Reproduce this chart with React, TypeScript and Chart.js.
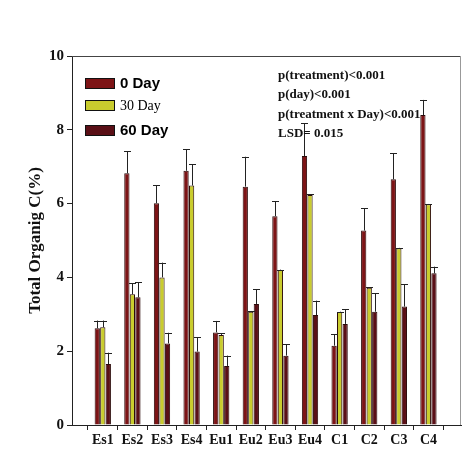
import React, { useEffect, useRef } from "react";
import { Chart, registerables } from "chart.js";

Chart.register(...registerables);

const categories = ["Es1", "Es2", "Es3", "Es4", "Eu1", "Eu2", "Eu3", "Eu4", "C1", "C2", "C3", "C4"];

const day0 = [2.62, 6.82, 6.01, 6.89, 2.51, 6.46, 5.66, 7.29, 2.15, 5.27, 6.66, 8.4];
const day0Err = [0.21, 0.6, 0.49, 0.58, 0.31, 0.81, 0.41, 0.89, 0.31, 0.6, 0.7, 0.41];

const day30 = [2.65, 3.54, 4.0, 6.49, 2.44, 3.07, 4.2, 6.23, 3.06, 3.72, 4.79, 5.98];
const day30Err = [0.18, 0.3, 0.4, 0.58, 0.04, 0.02, 0.01, 0.02, 0.01, 0.01, 0.01, 0.01];

const day60 = [1.65, 3.46, 2.21, 1.99, 1.6, 3.28, 1.88, 2.98, 2.74, 3.07, 3.21, 4.11];
const day60Err = [0.31, 0.41, 0.29, 0.39, 0.28, 0.4, 0.31, 0.39, 0.4, 0.5, 0.6, 0.18];

const seriesNames = ["0 Day", "30 Day", "60 Day"];
const seriesColors = ["#7d1416", "#c9cc2e", "#5a0f16"];

const statLines = [
  "p(treatment)<0.001",
  "p(day)<0.001",
  "p(treatment x Day)<0.001",
  "LSD= 0.015",
];

const yTicks = [0, 2, 4, 6, 8, 10];

const SERIF = "'Liberation Serif', 'Times New Roman', serif";
const SANS = "'Liberation Sans', Arial, sans-serif";

const errors = [day0Err, day30Err, day60Err];

// upward-only error bars with a short cap
const errorBarPlugin = {
  id: "errorBars",
  afterDatasetsDraw(chart: any) {
    const ctx = chart.ctx;
    const yScale = chart.scales.y;
    ctx.save();
    ctx.strokeStyle = "#222";
    ctx.lineWidth = 1;
    chart.data.datasets.forEach((ds: any, di: number) => {
      const meta = chart.getDatasetMeta(di);
      meta.data.forEach((el: any, i: number) => {
        const v = ds.data[i].y;
        const e = errors[di][i];
        const top = yScale.getPixelForValue(v + e);
        const x = Math.round(el.x) + 0.5;
        ctx.beginPath();
        ctx.moveTo(x, el.y);
        ctx.lineTo(x, top);
        ctx.moveTo(x - 3.5, Math.round(top) + 0.5);
        ctx.lineTo(x + 3.5, Math.round(top) + 0.5);
        ctx.stroke();
      });
    });
    ctx.restore();
  },
};

// frame lines, legend and statistics text
const decorPlugin = {
  id: "decor",
  afterDraw(chart: any) {
    const ctx = chart.ctx;
    const a = chart.chartArea;
    ctx.save();
    ctx.lineWidth = 1;
    ctx.strokeStyle = "#444";
    ctx.beginPath();
    ctx.moveTo(a.left, Math.round(a.top) + 0.5);
    ctx.lineTo(a.right, Math.round(a.top) + 0.5);
    ctx.stroke();
    ctx.strokeStyle = "#999";
    ctx.beginPath();
    ctx.moveTo(Math.round(a.right) - 0.5, a.top);
    ctx.lineTo(Math.round(a.right) - 0.5, a.bottom);
    ctx.stroke();

    // legend
    const legendFonts = [`bold 15px ${SANS}`, `14px ${SERIF}`, `bold 15px ${SANS}`];
    const rowY = [83, 105, 130];
    seriesNames.forEach((name, i) => {
      const bx = a.left + 13;
      const by = rowY[i] - 5;
      ctx.fillStyle = seriesColors[i];
      ctx.fillRect(bx, by, 29, 10);
      ctx.strokeStyle = "#111";
      ctx.strokeRect(bx + 0.5, by + 0.5, 29, 10);
      ctx.fillStyle = "#000";
      ctx.font = legendFonts[i];
      ctx.textBaseline = "middle";
      ctx.textAlign = "left";
      ctx.fillText(name, bx + 35, rowY[i] + 1);
    });

    // statistics
    ctx.font = `bold 13px ${SERIF}`;
    ctx.fillStyle = "#111";
    ctx.textBaseline = "middle";
    const sy = [76, 95, 115, 134];
    statLines.forEach((t, i) => ctx.fillText(t, 278, sy[i]));
    ctx.restore();
  },
};

export default function App() {
  const ref = useRef<HTMLCanvasElement>(null);

  useEffect(() => {
    const canvas = ref.current;
    if (!canvas) return;
    const datasets = [day0, day30, day60].map((vals, si) => ({
      label: seriesNames[si],
      data: vals.map((v, i) => ({ x: i, y: v })),
      backgroundColor: seriesColors[si],
      borderColor: "#2b0a0a",
      borderWidth: 1,
      categoryPercentage: 0.56,
      barPercentage: 0.95,
    }));

    const chart = new Chart(canvas, {
      type: "bar",
      data: { datasets },
      plugins: [errorBarPlugin, decorPlugin],
      options: {
        animation: false,
        responsive: false,
        layout: { padding: { top: 56, right: 10, left: 0, bottom: 0 } },
        plugins: {
          legend: { display: false },
          tooltip: { enabled: false },
        },
        scales: {
          x: {
            type: "linear",
            min: -1.04,
            max: 12.1,
            offset: false,
            afterBuildTicks: (scale: any) => {
              scale.ticks = categories.map((_, i) => ({ value: i }));
            },
            afterFit: (scale: any) => {
              scale.height = 37;
            },
            ticks: {
              stepSize: 1,
              autoSkip: false,
              maxRotation: 0,
              padding: 2,
              color: "#111",
              font: { family: SERIF, size: 14, weight: "bold" },
              callback: (v: any) => categories[v as number] ?? "",
            },
            grid: { display: true, drawOnChartArea: false, tickLength: 5, color: "#222" },
            border: { display: true, color: "#222", width: 1 },
          },
          y: {
            min: 0,
            max: 10,
            afterBuildTicks: (scale: any) => {
              scale.ticks = yTicks.map((v) => ({ value: v }));
            },
            afterFit: (scale: any) => {
              scale.width = 72;
            },
            ticks: {
              stepSize: 2,
              padding: 3,
              color: "#111",
              font: { family: SERIF, size: 15, weight: "bold" },
            },
            grid: { display: true, drawOnChartArea: false, tickLength: 5, color: "#222" },
            border: { display: true, color: "#222", width: 1 },
            title: {
              display: true,
              text: "Total Organig C(%)",
              color: "#111",
              font: { family: SERIF, size: 17, weight: "bold" },
              padding: { top: 25, bottom: 0 },
            },
          },
        },
      },
    });
    return () => chart.destroy();
  }, []);

  return (
    <div style={{ position: "absolute", left: 0, top: 0, width: 471, height: 462, background: "#fff" }}>
      <canvas ref={ref} width={471} height={462} style={{ width: 471, height: 462 }} />
    </div>
  );
}
